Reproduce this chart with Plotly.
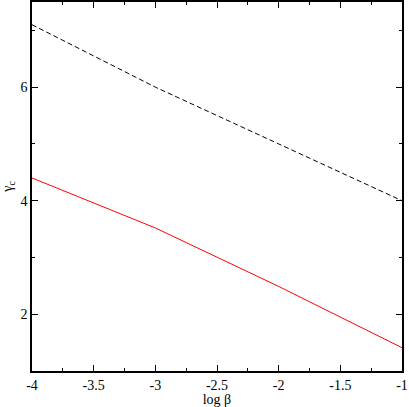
import plotly.graph_objects as go

# values
log_beta = [-4, -3, -2, -1]
gamma_dashed = [7.1, 6.0, 5.0, 4.0]
gamma_red = [4.4, 3.52, 2.49, 1.41]

x_ticks = [-4, -3.5, -3, -2.5, -2, -1.5, -1]
x_labels = ["-4", "-3.5", "-3", "-2.5", "-2", "-1.5", "-1"]
y_ticks = [2, 4, 6]
y_labels = ["2", "4", "6"]

serif = dict(family="Times New Roman, Liberation Serif, serif", size=14, color="black")

fig = go.Figure()
fig.add_trace(go.Scatter(x=log_beta, y=gamma_dashed, mode="lines",
                         line=dict(color="black", width=1, dash="5px,3px")))
fig.add_trace(go.Scatter(x=log_beta, y=gamma_red, mode="lines",
                         line=dict(color="red", width=1)))

axis_style = dict(
    showgrid=False, zeroline=False, automargin=False,
    showline=True, linecolor="black", linewidth=1.5, mirror="ticks",
    ticks="inside", ticklen=6, tickcolor="black", tickwidth=1,
    tickfont=serif, ticklabeloverflow="allow",
)

fig.update_xaxes(range=[-4, -1], tickvals=x_ticks, ticktext=x_labels,
                 minor=dict(ticks="inside", ticklen=3, dtick=0.25, tickcolor="black"),
                 title=dict(text="log β", standoff=0, font=serif),
                 **axis_style)
fig.update_yaxes(range=[1, 7.5], tickvals=y_ticks, ticktext=y_labels,
                 minor=dict(ticks="inside", ticklen=3, dtick=1, tickcolor="black"),
                 title=dict(text="γ<sub>c</sub>", standoff=6, font=serif),
                 **axis_style)

fig.update_layout(
    width=409, height=407,
    margin=dict(l=32, r=7, t=2, b=36, autoexpand=False),
    plot_bgcolor="white", paper_bgcolor="white",
    showlegend=False,
)

# the page's body has a default 8px margin; drop it so the chart sits at 0,0
fig.write_html("out.html", config={"displayModeBar": False},
               post_script="document.body.style.margin='0';")
